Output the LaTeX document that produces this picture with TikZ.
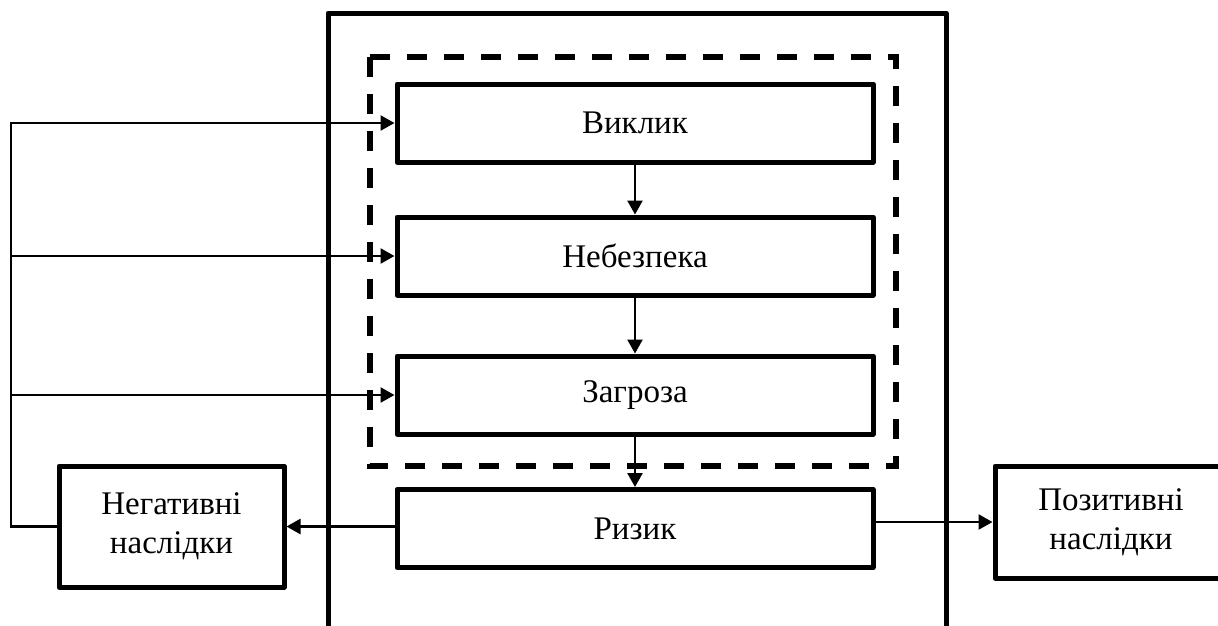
\documentclass[tikz,border=0pt]{standalone}
\usepackage{fontspec}
\setmainfont{Liberation Serif}
\usetikzlibrary{arrows.meta}
\begin{document}
\begin{tikzpicture}[x=1pt,y=-1pt,
  txt/.style={font=\fontsize{33}{39}\selectfont},
  box/.style={draw,line width=5pt,line join=round,minimum width=476pt,minimum height=78pt,inner sep=0pt,txt},
  sidebox/.style={draw,line width=5pt,line join=round,align=center,inner sep=0pt,txt},
  conn/.style={line width=2.5pt,-{Triangle[length=14pt,width=15pt]}},
  frame/.style={line width=5pt,line join=round},
  dashbox/.style={line width=5.5pt,dash pattern=on 20pt off 17pt}]
\clip (0,0) rectangle (1218,625);
\fill[white] (0,0) rectangle (1218,625);
% outer frame (open at the bottom)
\draw[frame] (328,640) -- (328,13) -- (946,13) -- (946,640);
% dashed group
\draw[dashbox] (370,57) rectangle (896,466);
% main boxes
\node[box] (vyklyk) at (635,123) {Виклик};
\node[box] (nebezpeka) at (635,256) {Небезпека};
\node[box] (zahroza) at (635,395) {Загроза};
\node[box] (ryzyk) at (635,528.5) {Ризик};
% side boxes
\node[sidebox,minimum width=225pt,minimum height=121pt] (neg) at (171.5,526.5) {Негативні\\наслідки};
\node[sidebox,minimum width=232pt,minimum height=112pt] (poz) at (1111,522) {Позитивні\\наслідки};
% vertical chain
\draw[conn] (vyklyk.south) -- (nebezpeka.north);
\draw[conn] (nebezpeka.south) -- (zahroza.north);
\draw[conn] (zahroza.south) -- (ryzyk.north);
% consequences
\draw[conn] (ryzyk.west |- neg.east) -- (neg.east);
\draw[conn] (ryzyk.east |- poz.west) -- (poz.west);
% feedback loop
\coordinate (lft) at (11,526.5);
\draw[conn] (neg.west) -- (lft) |- (vyklyk.west);
\draw[conn] (lft |- nebezpeka.west) -- (nebezpeka.west);
\draw[conn] (lft |- zahroza.west) -- (zahroza.west);
\end{tikzpicture}
\end{document}
